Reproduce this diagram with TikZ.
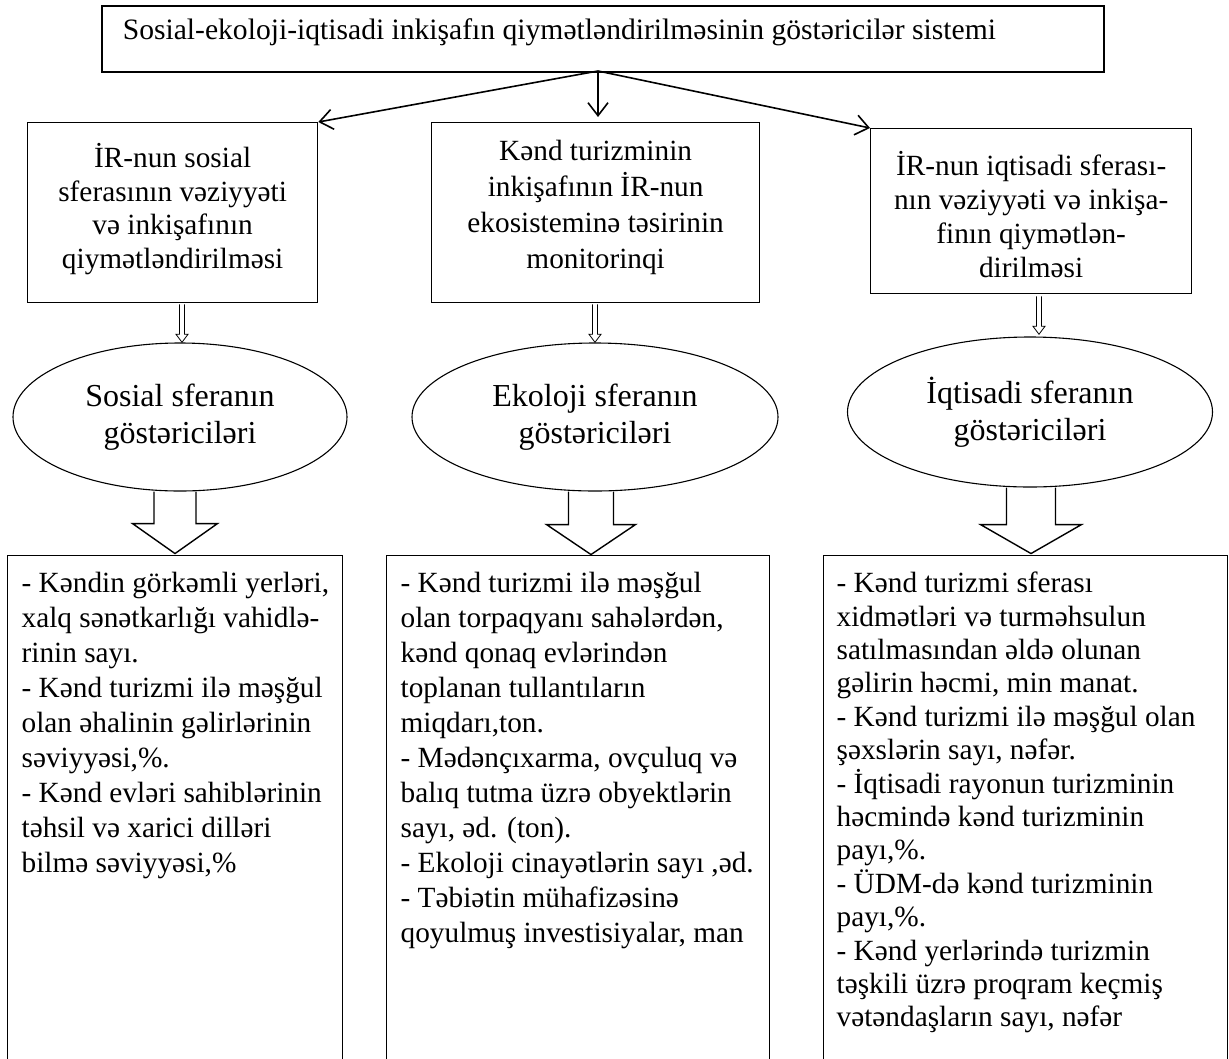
\documentclass[tikz,border=0pt]{standalone}
\usepackage{fontspec}
\setmainfont{Liberation Serif}
\usetikzlibrary{arrows.meta,shapes.geometric}
\newcommand{\txtfont}{\fontsize{29.3}{35}\selectfont}
\begin{document}
\begin{tikzpicture}[x=1pt,y=-1pt,
  boxst/.style={draw, line width=1.3pt, inner sep=0pt, anchor=north west},
  ellst/.style={draw, ellipse, line width=1.1pt, inner sep=0pt, align=center, font=\fontsize{32}{37.5}\selectfont},
  arr/.style={line width=1.6pt, -{Straight Barb[length=13pt,width=20pt,line width=1.6pt]}},
  thinarr/.style={line width=0.8pt},
  blockarr/.style={line width=1.4pt, line join=miter}
]
\useasboundingbox (0,0) rectangle (1229,1058);
\fill[white] (0,0) rectangle (1229,1058);

% top box
\node[boxst, line width=1.6pt] (top) at (101,5) {\begin{minipage}[t][66pt][t]{1002pt}\fontsize{29.6}{35}\selectfont\hspace*{21pt}\rule{0pt}{34pt}Sosial-ekoloji-iqtisadi inkişafın qiymətləndirilməsinin göstəricilər sistemi\end{minipage}};
\coordinate (o) at (598,71);

% middle level boxes
\node[boxst] (l1) at (27,122) {\begin{minipage}[t][180pt][t]{290pt}\centering\fontsize{29.3}{33.5}\selectfont\rule{0pt}{45pt}İR-nun sosial\\sferasının vəziyyəti\\və inkişafının\\qiymətləndirilməsi\end{minipage}};
\node[boxst] (m1) at (431,122) {\begin{minipage}[t][180pt][t]{328pt}\centering\fontsize{29.3}{36}\selectfont\rule{0pt}{38pt}Kənd turizminin\\inkişafının İR-nun\\ekosisteminə təsirinin\\monitorinqi\end{minipage}};
\node[boxst] (r1) at (870,128) {\begin{minipage}[t][165pt][t]{321pt}\centering\fontsize{29.3}{34}\selectfont\rule{0pt}{47pt}İR-nun iqtisadi sferası-\\nın vəziyyəti və inkişa-\\finın qiymətlən-\\dirilməsi\end{minipage}};

\draw[arr] (o) -- (l1.north east);
\draw[arr, shorten >=5pt] (o) -- (o |- m1.north);
\draw[arr] (o) -- (r1.north west);

% ellipses
\node[ellst, minimum width=334pt, minimum height=148pt] (e1) at (180,417) {Sosial sferanın\\göstəriciləri};
\node[ellst, minimum width=366pt, minimum height=148pt] (e2) at (595,417) {Ekoloji sferanın\\göstəriciləri};
\node[ellst, minimum width=365pt, minimum height=150pt] (e3) at (1030,412) {İqtisadi sferanın\\göstəriciləri};

% small hollow arrows
\draw[thinarr] ([xshift=2pt]e1.north |- l1.south) ++(-2.5,1) -- ++(0,30) -- ++(-3.5,0) -- ++(6,8) -- ++(6,-8) -- ++(-3.5,0) -- ++(0,-30);
\draw[thinarr] (e2.north |- m1.south) ++(-2.5,1) -- ++(0,30) -- ++(-3.5,0) -- ++(6,8) -- ++(6,-8) -- ++(-3.5,0) -- ++(0,-30);
\draw[thinarr] ([xshift=9pt]e3.north |- r1.south) ++(-2.5,2) -- ++(0,30) -- ++(-3.5,0) -- ++(6,8) -- ++(6,-8) -- ++(-3.5,0) -- ++(0,-30);

% bottom boxes
\node[boxst] (b1) at (7,555) {\hspace*{14pt}\begin{minipage}[t][515pt][t]{321pt}\raggedright\txtfont\rule{0pt}{37pt}- Kəndin görkəmli yerləri,\\xalq sənətkarlığı vahidlə-\\rinin sayı.\\- Kənd turizmi ilə məşğul\\olan əhalinin gəlirlərinin\\səviyyəsi,\%.\\- Kənd evləri sahiblərinin\\təhsil və xarici dilləri\\bilmə səviyyəsi,\%\end{minipage}};
\node[boxst] (b2) at (386,555) {\hspace*{14pt}\begin{minipage}[t][515pt][t]{369pt}\raggedright\txtfont\rule{0pt}{37pt}- Kənd turizmi ilə məşğul\\olan torpaqyanı sahələrdən,\\kənd qonaq evlərindən\\toplanan tullantıların\\miqdarı,ton.\\- Mədənçıxarma, ovçuluq və\\balıq tutma üzrə obyektlərin\\sayı, əd. (ton).\\- Ekoloji cinayətlərin sayı ,əd.\\- Təbiətin mühafizəsinə\\qoyulmuş investisiyalar, man\end{minipage}};
\node[boxst] (b3) at (823,555) {\hspace*{13pt}\begin{minipage}[t][515pt][t]{391pt}\raggedright\fontsize{29.3}{33.4}\selectfont\rule{0pt}{37pt}- Kənd turizmi sferası\\xidmətləri və turməhsulun\\satılmasından əldə olunan\\gəlirin həcmi, min manat.\\- Kənd turizmi ilə məşğul olan\\şəxslərin sayı, nəfər.\\- İqtisadi rayonun turizminin\\həcmində kənd turizminin\\payı,\%.\\- ÜDM-də kənd turizminin\\payı,\%.\\- Kənd yerlərində turizmin\\təşkili üzrə proqram keçmiş\\vətəndaşların sayı, nəfər\end{minipage}};

% block arrows
\draw[blockarr] ([xshift=-5pt]e1.south) ++(-21,0) -- ++(0,32) -- ++(-21.5,0) -- ++(42.5,30) -- ++(42.5,-30) -- ++(-21.5,0) -- ++(0,-32);
\draw[blockarr] ([xshift=-4pt]e2.south) ++(-22.5,0) -- ++(0,33) -- ++(-22,0) -- ++(44.5,30) -- ++(44.5,-30) -- ++(-22,0) -- ++(0,-33);
\draw[blockarr] ([xshift=1pt]e3.south) ++(-24.5,0) -- ++(0,37) -- ++(-26,0) -- ++(50.5,29) -- ++(50.5,-29) -- ++(-26,0) -- ++(0,-37);
\end{tikzpicture}
\end{document}
